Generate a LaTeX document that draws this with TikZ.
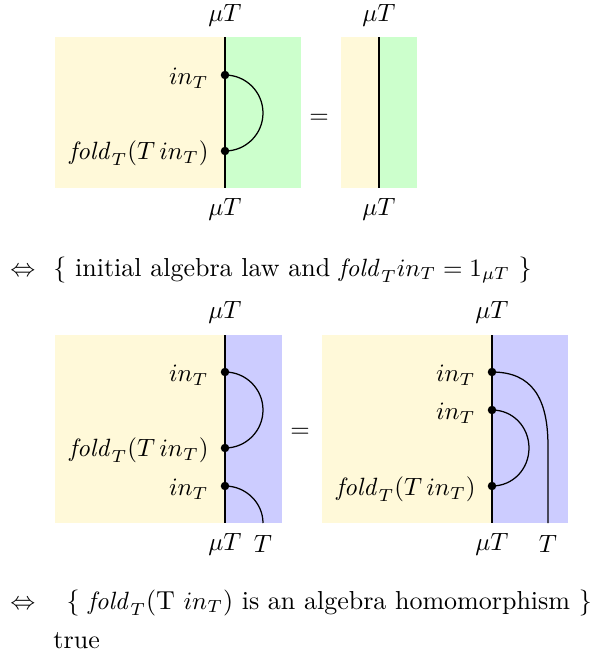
\documentclass[tikz,border=0pt]{standalone}
\usepackage{amsmath}
\definecolor{yel}{RGB}{255,249,217}
\definecolor{grn}{RGB}{204,255,204}
\definecolor{blu}{RGB}{204,204,255}
\begin{document}
\begin{tikzpicture}[x=0.4pt,y=-0.4pt,
  wire/.style={line width=0.5pt},
  dot/.style={circle,fill=black,inner sep=0pt,minimum size=3.4pt},
  lbl/.style={font=\fontsize{10.4}{13}\selectfont,inner sep=0pt,anchor=east},
  olbl/.style={font=\fontsize{10.4}{13}\selectfont,inner sep=0pt},
  body/.style={font=\fontsize{10.4}{13}\selectfont,inner sep=0pt,anchor=base west}]
\useasboundingbox (0,0) rectangle (604,656);
% ---------- diagram 1
\fill[yel] (55,37) rectangle (225,188);
\fill[grn] (225,37) rectangle (301,188);
\coordinate (d1t) at (225,37);
\coordinate (d1b) at (225,188);
\draw[wire] (d1t) -- (d1b);
\node[dot] (a1) at (225,75) {};
\node[dot] (a2) at (225,151) {};
\draw[wire] (a1.center) .. controls (246,75) and (263,92) .. (263,113)
  .. controls (263,134) and (246,151) .. (a2.center);
\node[olbl] (t1) at (225,15) {$\mu T$};
\node[olbl] (b1) at (225,209) {$\mu T$};
\node[lbl] (la1) at (209,78) {$in_T$};
\node[lbl] (la2) at (209,153) {$\mathit{fold}_T(T\,in_T)$};
\node[olbl] (eq1) at (319,119) {$=$};
% ---------- diagram 2
\fill[yel] (341,37) rectangle (379,188);
\fill[grn] (379,37) rectangle (417,188);
\coordinate (d2t) at (379,37);
\coordinate (d2b) at (379,188);
\draw[wire] (d2t) -- (d2b);
\node[olbl] (t2) at (379,15) {$\mu T$};
\node[olbl] (b2) at (379,209) {$\mu T$};
% ---------- line 1
\node[body] (iff1) at (10,276) {$\Leftrightarrow$};
\node[body] (r1) at (53,276) {\{ initial algebra law and $\mathit{fold}_T in_T = 1_{\mu T}$ \}};
% ---------- diagram 3
\fill[yel] (55,335) rectangle (225,523);
\fill[blu] (225,335) rectangle (282,523);
\coordinate (d3t) at (225,335);
\coordinate (d3b) at (225,523);
\coordinate (d3T) at (263,523);
\draw[wire] (d3t) -- (d3b);
\node[dot] (c1) at (225,372) {};
\node[dot] (c2) at (225,448) {};
\node[dot] (c3) at (225,486) {};
\draw[wire] (c1.center) .. controls (246,372) and (263,389) .. (263,410)
  .. controls (263,431) and (246,448) .. (c2.center);
\draw[wire] (c3.center) .. controls (246,486) and (263,503) .. (d3T);
\node[olbl] (t3) at (225,312) {$\mu T$};
\node[olbl] (b3) at (225,544) {$\mu T$};
\node[olbl] (b3T) at (263,544) {$T$};
\node[lbl] (lc1) at (209,375) {$in_T$};
\node[lbl] (lc2) at (209,450) {$\mathit{fold}_T(T\,in_T)$};
\node[lbl] (lc3) at (209,489) {$in_T$};
\node[olbl] (eq2) at (300,433) {$=$};
% ---------- diagram 4
\fill[yel] (322,335) rectangle (492,523);
\fill[blu] (492,335) rectangle (568,523);
\coordinate (d4t) at (492,335);
\coordinate (d4b) at (492,523);
\coordinate (d4T) at (548,523);
\draw[wire] (d4t) -- (d4b);
\node[dot] (e1) at (492,372) {};
\node[dot] (e2) at (492,410) {};
\node[dot] (e3) at (492,486) {};
\draw[wire] (e2.center) .. controls (513,410) and (529,427) .. (529,448)
  .. controls (529,469) and (513,486) .. (e3.center);
\draw[wire] (e1.center) .. controls (532,372) and (548,398) .. (548,446) -- (d4T);
\node[olbl] (t4) at (492,312) {$\mu T$};
\node[olbl] (b4) at (492,544) {$\mu T$};
\node[olbl] (b4T) at (548,544) {$T$};
\node[lbl] (le1) at (476,375) {$in_T$};
\node[lbl] (le2) at (476,413) {$in_T$};
\node[lbl] (le3) at (476,489) {$\mathit{fold}_T(T\,in_T)$};
% ---------- line 2
\node[body] (iff2) at (10,609) {$\Leftrightarrow$};
\node[body] (r2) at (66,609) {\{ $\mathit{fold}_T$(T $in_T$) is an algebra homomorphism \}};
\node[body] (tr) at (53,648) {true};
\end{tikzpicture}
\end{document}
